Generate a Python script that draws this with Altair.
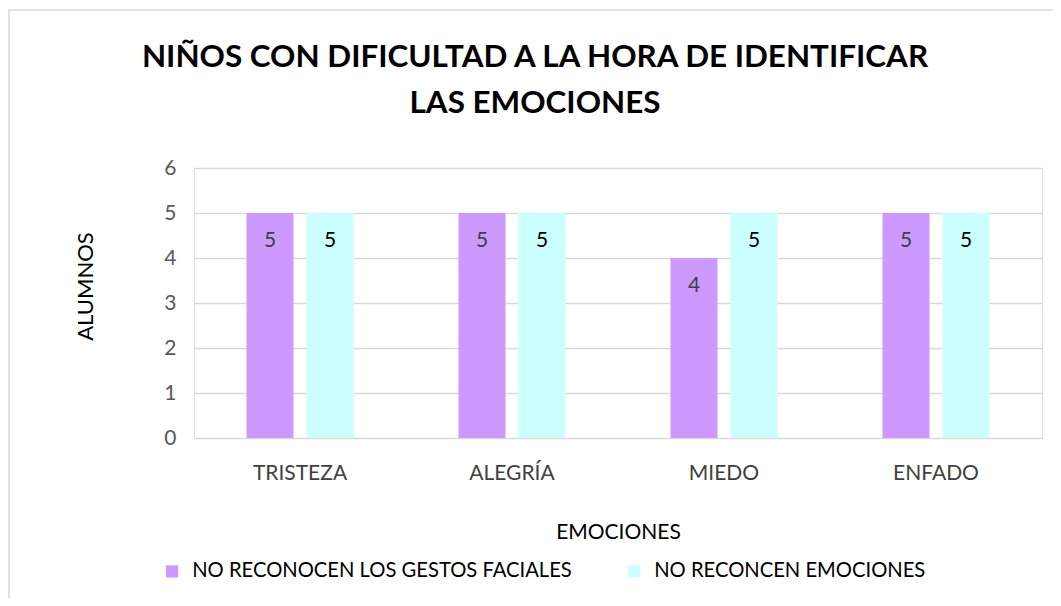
import altair as alt
import pandas as pd

categorias = ["TRISTEZA", "ALEGRÍA", "MIEDO", "ENFADO"]
serie_gestos = [5, 5, 4, 5]
serie_emociones = [5, 5, 5, 5]
series = ["NO RECONOCEN LOS GESTOS FACIALES", "NO RECONCEN EMOCIONES"]
colores = ["#CC99FF", "#CCFFFF"]
colores_texto = ["#404040", "#000000"]

rows = []
for i, c in enumerate(categorias):
    rows.append({"cat": c, "serie": series[0], "valor": serie_gestos[i], "tc": colores_texto[0]})
    rows.append({"cat": c, "serie": series[1], "valor": serie_emociones[i], "tc": colores_texto[1]})
df = pd.DataFrame(rows)

FONT = "Lato"

x = alt.X("cat:N", sort=categorias, title="EMOCIONES",
          scale=alt.Scale(paddingInner=0, paddingOuter=0),
          axis=alt.Axis(labelAngle=0, labelFontSize=21, labelColor="#404040", labelFont=FONT,
                        labelPadding=24, ticks=False, domain=False,
                        titleFont=FONT, titleFontSize=21, titleFontWeight="normal",
                        titleColor="#000000", titleY=94, titleBaseline="middle"))
y = alt.Y("valor:Q", title="ALUMNOS",
          scale=alt.Scale(domain=[0, 6], nice=False),
          axis=alt.Axis(values=[0, 1, 2, 3, 4, 5, 6], format="d", labelFontSize=21,
                        labelColor="#595959", labelFont=FONT, labelPadding=18, ticks=False,
                        domain=False, gridColor="#D9D9D9", gridWidth=1.3,
                        titleFont=FONT, titleFontSize=22, titleFontWeight="normal",
                        titleColor="#000000", titleAngle=-90, titleX=-109, titleY=118,
                        titleAlign="center", titleBaseline="middle"))
xoff = alt.XOffset("serie:N", sort=series,
                   scale=alt.Scale(paddingInner=0.2167, paddingOuter=0.875))

bars = alt.Chart(df).mark_bar().encode(
    x=x, y=y, xOffset=xoff,
    color=alt.Color("serie:N", sort=series,
                    scale=alt.Scale(domain=series, range=colores),
                    legend=alt.Legend(title=None, orient="none", direction="horizontal",
                                      legendX=-32, legendY=393, symbolType="square",
                                      symbolSize=150, symbolStrokeWidth=0,
                                      labelFont=FONT, labelFontSize=20.2, labelColor="#000000",
                                      labelOffset=10, columnPadding=52, labelLimit=0)),
)

labels = alt.Chart(df).mark_text(baseline="middle", dy=28, fontSize=21, font=FONT).encode(
    x=x, y=y, xOffset=xoff,
    text=alt.Text("valor:Q"),
    color=alt.Color("tc:N", scale=None, legend=None),
)

frame = alt.Chart(alt.Data(values=[{"a": 1}])).mark_rect(
    fill="transparent", stroke="#D9D9D9", strokeWidth=1.5
).encode(x=alt.value(-185), x2=alt.value(880), y=alt.value(-158), y2=alt.value(450))

chart = alt.layer(frame, bars, labels).properties(
    width=848, height=270,
    title=alt.TitleParams(
        text=["NIÑOS CON DIFICULTAD A LA HORA DE IDENTIFICAR", "LAS EMOCIONES"],
        font=FONT, fontSize=31.4, fontWeight="bold", color="#000000",
        anchor="middle", frame="group", dx=-83, offset=0, dy=135.6,
        baseline="alphabetic", lineHeight=46,
    ),
    autosize=alt.AutoSizeParams(type="none"),
    padding={"left": 186, "top": 160, "right": 11, "bottom": 160},
).configure_view(stroke="transparent", strokeWidth=0).configure(background="white")

chart.save("out.html", embed_options={"renderer": "svg", "actions": False})
